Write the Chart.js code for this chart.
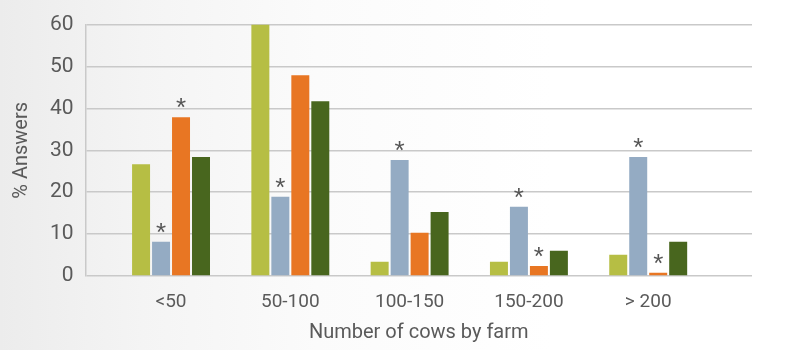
<!DOCTYPE html>
<html>
<head>
<meta charset="utf-8">
<script src="https://cdn.jsdelivr.net/npm/chart.js@4/dist/chart.umd.min.js"></script>
<style>
  html, body { margin: 0; padding: 0; }
  body {
    width: 789px; height: 350px; overflow: hidden;
    background: linear-gradient(to right, #ececec 0%, #f4f4f4 18%, #fbfbfb 40%, #ffffff 70%, #ffffff 100%);
  }
  #wrap { position: relative; width: 789px; height: 350px; }
</style>
</head>
<body>
<div id="wrap"><canvas id="chart" width="789" height="350"></canvas></div>
<script>
// Farm size classes
const categories = ['<50', '50-100', '100-150', '150-200', '> 200'];

// Share of answers (%) per farm size class, one array per group
const seriesA = [26.7, 60.0, 3.4, 3.4, 5.1];   // yellow-green
const seriesB = [8.2, 18.9, 27.7, 16.5, 28.4]; // grey-blue
const seriesC = [37.9, 47.9, 10.3, 2.4, 0.8];  // orange
const seriesD = [28.4, 41.7, 15.3, 6.0, 8.2];  // dark green

// Significance markers (*) above the bars
const starsA = [false, false, false, false, false];
const starsB = [true, true, true, true, true];
const starsC = [true, false, false, true, true];
const starsD = [false, false, false, false, false];

const yTicks = [0, 10, 20, 30, 40, 50, 60];

const textColor = '#5a5a5a';
const fontFamily = 'Roboto, "Liberation Sans", sans-serif';

const toPoints = arr => arr.map((v, i) => ({ x: i, y: v }));

const series = [
  { label: 'A', data: seriesA, stars: starsA, color: '#b6be44' },
  { label: 'B', data: seriesB, stars: starsB, color: '#94abc3' },
  { label: 'C', data: seriesC, stars: starsC, color: '#e87623' },
  { label: 'D', data: seriesD, stars: starsD, color: '#48661e' }
];

// Draws an asterisk above every flagged bar
const starPlugin = {
  id: 'stars',
  afterDatasetsDraw(chart) {
    const ctx = chart.ctx;
    ctx.save();
    ctx.fillStyle = '#555555';
    ctx.font = '26px "Liberation Sans", sans-serif';
    ctx.textAlign = 'center';
    ctx.textBaseline = 'alphabetic';
    chart.data.datasets.forEach((ds, di) => {
      const meta = chart.getDatasetMeta(di);
      ds.stars.forEach((flag, i) => {
        if (!flag) return;
        const bar = meta.data[i];
        ctx.fillText('*', bar.x, bar.y - 1);
      });
    });
    ctx.restore();
  }
};

new Chart(document.getElementById('chart'), {
  type: 'bar',
  data: {
    datasets: series.map(s => ({
      label: s.label,
      data: toPoints(s.data),
      stars: s.stars,
      backgroundColor: s.color,
      borderWidth: 0,
      categoryPercentage: 0.67,
      barPercentage: 0.9
    }))
  },
  options: {
    responsive: false,
    animation: false,
    layout: { padding: { left: 0, top: 24, right: 37, bottom: 0 } },
    plugins: { legend: { display: false }, tooltip: { enabled: false } },
    scales: {
      x: {
        type: 'linear',
        offset: false,
        min: -0.717,
        max: 4.87,
        afterBuildTicks: scale => { scale.ticks = categories.map((c, i) => ({ value: i })); },
        afterFit: scale => { scale.height = 74; },
        grid: { display: false, drawTicks: false, offset: false },
        border: { display: false },
        ticks: {
          autoSkip: false,
          maxRotation: 0,
          padding: 15,
          color: textColor,
          font: { family: fontFamily, size: 19 },
          callback: v => categories[v]
        },
        title: {
          display: true,
          text: 'Number of cows by farm',
          color: textColor,
          font: { family: fontFamily, size: 20 },
          padding: { top: 0, bottom: 5 }
        }
      },
      y: {
        min: 0,
        max: 60,
        afterBuildTicks: scale => { scale.ticks = yTicks.map(v => ({ value: v })); },
        afterFit: scale => { scale.width = 85.5; },
        grid: { color: '#c9c9c9', lineWidth: 1.5, drawTicks: false },
        border: { display: true, color: '#c9c9c9', width: 1.5 },
        ticks: {
          padding: 12,
          color: textColor,
          font: { family: fontFamily, size: 21 }
        },
        title: {
          display: true,
          text: '% Answers',
          color: textColor,
          font: { family: fontFamily, size: 20 },
          padding: { top: 10, bottom: 0 }
        }
      }
    }
  },
  plugins: [starPlugin]
});
</script>
</body>
</html>
